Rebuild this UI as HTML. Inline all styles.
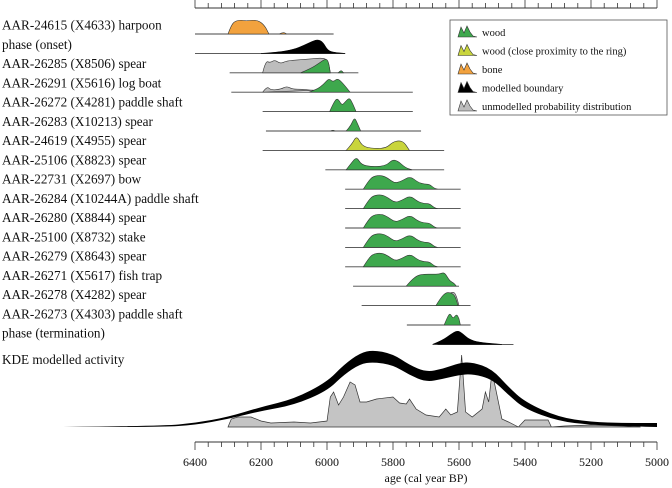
<!DOCTYPE html>
<html><head><meta charset="utf-8">
<style>
body{margin:0;background:#fff;}
svg{display:block;font-family:"Liberation Serif",serif;}
</style></head>
<body>
<svg id="chart" width="672" height="488" viewBox="0 0 672 488">
<defs>
<linearGradient id="fade" x1="0" x2="1"><stop offset="0" stop-color="#ccc" stop-opacity="0"/><stop offset="1" stop-color="#555"/></linearGradient>
</defs>
<g id="rows"></g>
<g id="kde"></g>
<g id="axes"></g>
<g id="legend">
<rect x="450" y="20" width="217" height="95" fill="#fff" stroke="#555" stroke-width="0.8"/>
</g>
</svg>
<script>
const NS="http://www.w3.org/2000/svg";
const tickYears=[6400,6200,6000,5800,5600,5400,5200,5000];
const rowLabels=["AAR-24615 (X4633) harpoon","phase (onset)","AAR-26285 (X8506) spear","AAR-26291 (X5616) log boat","AAR-26272 (X4281) paddle shaft","AAR-26283 (X10213) spear","AAR-24619 (X4955) spear","AAR-25106 (X8823) spear","AAR-22731 (X2697) bow","AAR-26284 (X10244A) paddle shaft","AAR-26280 (X8844) spear","AAR-25100 (X8732) stake","AAR-26279 (X8643) spear","AAR-26271 (X5617) fish trap","AAR-26278 (X4282) spear","AAR-26273 (X4303) paddle shaft","phase (termination)"];
const rowRanges=[[6400,5980],[6400,5945],[6295,5905],[6290,5740],[6195,5740],[6185,5715],[6195,5645],[6005,5645],[5945,5595],[5945,5595],[5945,5595],[5945,5595],[5945,5595],[5921,5600],[5895,5565],[5758,5565],[5665,5435]];
const twoHump=[[5890,0],[5875,8],[5860,13],[5835,14],[5815,11],[5795,6],[5775,8],[5748,13],[5725,7],[5705,5],[5690,5],[5675,1],[5665,0]];
const rowSeries=[
 [["bone",[[6300,0],[6290,9],[6278,13],[6260,14],[6245,13],[6225,14],[6205,13],[6188,8],[6176,0]]],["bone",[[6145,0],[6133,2],[6122,0]]]],
 [["model",[[6200,0],[6150,1],[6100,4],[6070,8],[6045,12],[6027,14],[6012,11],[5998,3],[5980,1],[5945,0]]]],
 [["unmod",[[6195,0],[6186,12],[6172,10],[6158,13],[6142,9],[6122,12],[6085,13],[6045,14],[6012,15],[5996,12],[5990,0]]],["wood",[[6080,0],[6050,4],[6022,10],[6005,14],[5996,12],[5990,0]]],["wood",[[5966,0],[5958,3],[5950,0]]]],
 [["unmod",[[6195,0],[6182,6],[6170,2],[6140,3],[6122,6],[6105,3],[6075,3],[6050,2],[6030,2]]],["wood",[[6055,0],[6030,3],[6010,8],[5994,14],[5982,10],[5968,14],[5952,9],[5930,0]]]],
 [["wood",[[5992,0],[5980,9],[5968,14],[5955,6],[5944,10],[5932,14],[5922,8],[5912,0]]]],
 [["wood",[[5942,0],[5928,5],[5917,14],[5907,7],[5898,0]]],["wood",[[5990,0],[5982,1],[5975,0]]]],
 [["yellow",[[5942,0],[5925,6],[5910,15],[5895,5],[5870,2],[5822,2],[5802,8],[5782,10],[5766,8],[5750,0]]]],
 [["wood",[[5942,0],[5926,7],[5910,13],[5896,5],[5862,3],[5822,4],[5802,10],[5786,9],[5762,2],[5742,0]]]],
 [["wood",twoHump]],[["wood",twoHump]],[["wood",twoHump]],[["wood",twoHump]],[["wood",twoHump]],
 [["wood",[[5760,0],[5745,6],[5725,11],[5705,12],[5680,12],[5660,12],[5645,14],[5635,9],[5627,5],[5615,3],[5608,0]]]],
 [["unmod",[[5665,0],[5640,10],[5620,14],[5610,12],[5600,0]]],["wood",[[5670,0],[5655,8],[5640,13],[5625,13],[5612,10],[5603,0]]]],
 [["unmod",[[5630,0],[5610,12],[5598,0]]],["wood",[[5645,0],[5635,8],[5627,12],[5618,6],[5608,11],[5600,7],[5596,0]]]],
 [["model",[[5680,0],[5650,4],[5625,10],[5605,14],[5590,11],[5570,5],[5540,2],[5470,0]]]]
];
const kdeYears=[6800,6500,6400,6300,6200,6100,6000,5950,5900,5860,5800,5750,5700,5650,5600,5560,5500,5450,5400,5300,5200,5100,5000];
const kdeUpper=[0,1,4,10,20,28,45,62,74,77,73,62,55,58,64,65,58,40,25,10,5,4,4];
const kdeLower=[0,0,2,8,16,22,36,52,63,65,62,52,45,48,52,53,48,32,18,6,2,1,0];
const greyYears=[6300,6290,6270,6230,6200,6170,6100,6050,6000,5990,5980,5965,5950,5930,5915,5900,5880,5850,5800,5780,5760,5750,5730,5700,5660,5640,5625,5605,5592,5580,5560,5530,5520,5510,5500,5490,5470,5450,5420,5400,5330,5320,5280,5200,5100,5050];
const greyVals=[0,8,10,10,6,4,5,4,6,30,35,22,30,45,42,25,25,28,30,24,23,28,18,12,10,18,12,15,72,15,10,18,35,25,55,40,8,5,0,7,7,0,1,2,1,0];
const colors={wood:"#3ea84d",yellow:"#c9d53c",bone:"#f2a23e",model:"#000",unmod:"#bdbdbd"};
const X=y=>195+(6400-y)*0.33;
function smooth(pts){let d=`M${pts[0][0]},${pts[0][1]}`;for(let i=1;i<pts.length-1;i++){const mx=(pts[i][0]+pts[i+1][0])/2,my=(pts[i][1]+pts[i+1][1])/2;d+=` Q${pts[i][0]},${pts[i][1]} ${mx},${my}`;}const l=pts[pts.length-1];return d+` L${l[0]},${l[1]}`;}
function el(t,a,p){const e=document.createElementNS(NS,t);for(const k in a)e.setAttribute(k,a[k]);p.appendChild(e);return e;}
const rows=document.getElementById('rows');
rowLabels.forEach((lab,i)=>{
 const base=34+19.4*i, ty=29.5+19.25*i;
 const t=el('text',{x:2,y:ty,'font-size':13.2,fill:'#111'},rows);t.textContent=lab;
 
 
 const r=rowRanges[i];
 const ln=el('line',{x1:X(r[0]),x2:X(r[1]),y1:base,y2:base,stroke:'#444','stroke-width':0.9},rows);
 
 
 rowSeries[i].forEach(s=>{
  const pts=s[1].map(p=>[X(p[0]),base-p[1]]);
  const p=el('path',{d:smooth(pts)+' Z',fill:colors[s[0]],stroke:s[0]=='model'?'#000':'#333','stroke-width':0.6},rows);
  
  
 });
});
const kde=document.getElementById('kde');const KB=427;
const bl=el('line',{x1:57,x2:657,y1:KB,y2:KB,stroke:'url(#fade)','stroke-width':1},kde);


const kl=el('text',{x:2,y:364,'font-size':13.2,fill:'#111'},kde);kl.textContent="KDE modelled activity";


const gp=greyYears.map((y,i)=>[X(y),KB-greyVals[i]]);
const gpath=el('path',{d:'M'+gp.map(p=>p.join(',')).join(' L')+' Z',fill:'#c4c4c4',stroke:'#333','stroke-width':0.7},kde);


const up=kdeYears.map((y,i)=>[Math.max(57,X(y)),KB-kdeUpper[i]]);
const lo=kdeYears.map((y,i)=>[Math.max(57,X(y)),KB-kdeLower[i]]).reverse();
const band=el('path',{d:smooth(up)+' '+smooth(lo).replace('M','L')+' Z',fill:'#000'},kde);


const ax=document.getElementById('axes');
[[8,-1],[442,1]].forEach(([ay,dir],k)=>{
 const a=el('line',{x1:195,x2:657,y1:ay,y2:ay,stroke:'#333','stroke-width':1},ax);
 
 
 for(let y=6400;y>=5000;y-=40){const major=(6400-y)%200==0;
  const tk=el('line',{x1:X(y),x2:X(y),y1:ay,y2:ay+dir*(major?8:5),stroke:'#333','stroke-width':0.8},ax);
  
  }
});
tickYears.forEach(y=>{const t=el('text',{x:X(y),y:466,'font-size':12,'text-anchor':'middle',fill:'#111'},ax);t.textContent=y;
 
 });
const xt=el('text',{x:426,y:482,'font-size':12,'text-anchor':'middle',fill:'#111'},ax);xt.textContent="age (cal year BP)";


const lg=document.getElementById('legend');
[["wood","wood"],["yellow","wood (close proximity to the ring)"],["bone","bone"],["model","modelled boundary"],["unmod","unmodelled probability distribution"]].forEach(([k,txt],i)=>{
 const cy=37+18.5*i;
 const ic=el('path',{d:`M458,${cy} L461,${cy-10} L464,${cy-4} L467,${cy-11} L470,${cy-5} L473,${cy-1} L477,${cy} Z`,fill:colors[k],stroke:'#333','stroke-width':0.6},lg);
 
 
 const t=el('text',{x:482,y:cy-1,'font-size':10.5,fill:'#111'},lg);t.textContent=txt;
 
 
});
</script>
</body></html>
